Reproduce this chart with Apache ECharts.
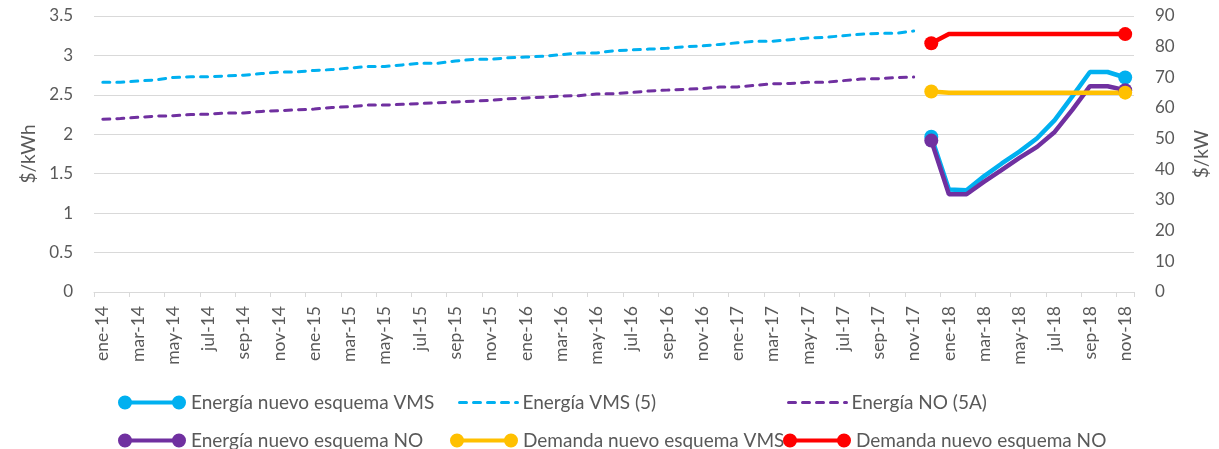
<!DOCTYPE html>
<html>
<head>
<meta charset="utf-8">
<script src="https://cdn.jsdelivr.net/npm/echarts@6/dist/echarts.min.js"></script>
<style>
html,body{margin:0;padding:0;background:#fff;}
#c{width:1219px;height:449px;}
</style>
</head>
<body>
<div id="c"></div>
<script>
// ---- Data ----
const monthNames = ['ene','feb','mar','abr','may','jun','jul','ago','sep','oct','nov','dic'];
const years = ['14','15','16','17','18'];
const categories = [];
years.forEach(y => monthNames.forEach(m => categories.push(m + '-' + y)));
categories.pop(); // ends at nov-18

// Energía VMS (5): ene-14 .. nov-17 ($/kWh)
const energiaVMS5 = [2.66,2.66,2.675,2.69,2.72,2.73,2.73,2.74,2.75,2.77,2.79,2.79,
  2.81,2.82,2.84,2.86,2.86,2.88,2.90,2.90,2.93,2.95,2.95,2.97,
  2.98,2.99,3.01,3.03,3.03,3.06,3.07,3.08,3.09,3.11,3.12,3.14,
  3.16,3.18,3.18,3.20,3.22,3.23,3.25,3.27,3.28,3.28,3.31];
// Energía NO (5A): ene-14 .. nov-17 ($/kWh)
const energiaNO5A = [2.19,2.20,2.215,2.23,2.235,2.25,2.255,2.27,2.27,2.29,2.30,2.31,
  2.32,2.34,2.35,2.37,2.37,2.38,2.39,2.40,2.41,2.42,2.43,2.45,
  2.46,2.47,2.485,2.49,2.51,2.515,2.53,2.55,2.56,2.57,2.58,2.60,
  2.60,2.62,2.64,2.645,2.66,2.66,2.68,2.70,2.705,2.72,2.725];
// New scheme: dic-17 .. nov-18
const energiaNuevoVMS = [1.97,1.30,1.29,1.47,1.63,1.78,1.95,2.18,2.48,2.79,2.79,2.72];
const energiaNuevoNO  = [1.92,1.24,1.24,1.40,1.55,1.70,1.84,2.03,2.31,2.61,2.61,2.56];
// Demand ($/kW, right axis)
const demandaNuevoVMS = [65.4,65.0,65.0,65.0,65.0,65.0,65.0,65.0,65.0,65.0,65.0,65.0];
const demandaNuevoNO  = [81.1,84.1,84.1,84.1,84.1,84.1,84.1,84.1,84.1,84.1,84.1,84.1];

const seriesNames = ['Energía nuevo esquema VMS','Energía VMS (5)','Energía NO (5A)',
  'Energía nuevo esquema NO','Demanda nuevo esquema VMS','Demanda nuevo esquema NO'];
const colors = ['#00B0F0','#00B0F0','#7030A0','#7030A0','#FFC000','#FF0000'];

// ---- Helpers ----
const N = categories.length;
function padEnd(arr){ const out = arr.slice(); while(out.length < N) out.push(null); return out; }
function padStart(arr){ const out = []; while(out.length + arr.length < N) out.push(null); return out.concat(arr); }
function endMarkers(arr){
  return arr.map((v,i) => (i===0 || i===arr.length-1) ? {value:v, symbol:'circle', symbolSize:14} : {value:v, symbol:'none'});
}

const FONT = 'Lato';
const TXT = '#595959';
const markerIcon = 'path://M0,7a7,7 0 1,0 14,0a7,7 0 1,0 -14,0z M7,5v4h54v-4z M54,7a7,7 0 1,0 14,0a7,7 0 1,0 -14,0z';

function solidSeries(name, color, data, yIdx){
  return {
    name, type:'line', yAxisIndex:yIdx, symbol:'circle', symbolSize:14, showAllSymbol:true,
    data: padStart(endMarkers(data)),
    lineStyle:{color, width:4.5}, itemStyle:{color},
    connectNulls:false, animation:false
  };
}
function dashedSeries(name, color, data){
  return {
    name, type:'line', yAxisIndex:0, symbol:'none',
    data: padEnd(data),
    lineStyle:{color, width:3, type:[7,7], cap:'round'}, itemStyle:{color},
    animation:false
  };
}

function legend(name, left, top, icon, w, dashed){
  const l = {
    data:[{name, icon}], left, top, itemWidth:w, itemHeight:14,
    textStyle:{color:TXT, fontSize:19, fontFamily:FONT}, selectedMode:false,
    lineStyle:{width:3}
  };
  if (dashed) l.itemStyle = {opacity:0, color:'rgba(0,0,0,0)', borderWidth:0};
  return l;
}

const chart = echarts.init(document.getElementById('c'), null, {renderer:'canvas'});
chart.setOption({
  animation:false,
  textStyle:{fontFamily:FONT},
  grid:{left:94, right:85, top:16, bottom:157, containLabel:false},
  legend:[
    legend(seriesNames[0], 113, 388, markerIcon, 68),
    legend(seriesNames[1], 453, 388, undefined, 58, true),
    legend(seriesNames[2], 782, 388, undefined, 58, true),
    legend(seriesNames[3], 113, 426, markerIcon, 68),
    legend(seriesNames[4], 445, 426, markerIcon, 68),
    legend(seriesNames[5], 778, 426, markerIcon, 68)
  ],
  xAxis:{
    type:'category', data:categories, boundaryGap:true,
    axisLine:{lineStyle:{color:'#d9d9d9', width:1}},
    axisTick:{show:true, interval:1, length:5, lineStyle:{color:'#d9d9d9'}},
    axisLabel:{interval:1, rotate:90, color:TXT, fontSize:17.5, fontFamily:FONT, margin:14}
  },
  yAxis:[
    {type:'value', min:0, max:3.5, interval:0.5, position:'left',
     name:'$/kWh', nameLocation:'middle', nameRotate:90, nameGap:56,
     nameTextStyle:{color:TXT, fontSize:19, fontFamily:FONT},
     axisLine:{show:false}, axisTick:{show:false},
     axisLabel:{color:TXT, fontSize:17, fontFamily:FONT, margin:21},
     splitLine:{lineStyle:{color:'#d9d9d9', width:1}}},
    {type:'value', min:0, max:90, interval:10, position:'right',
     name:'$/kW', nameLocation:'middle', nameRotate:90, nameGap:58,
     nameTextStyle:{color:TXT, fontSize:19, fontFamily:FONT},
     axisLine:{show:false}, axisTick:{show:false},
     axisLabel:{color:TXT, fontSize:17, fontFamily:FONT, margin:21},
     splitLine:{show:false}}
  ],
  series:[
    solidSeries(seriesNames[0], colors[0], energiaNuevoVMS, 0),
    dashedSeries(seriesNames[1], colors[1], energiaVMS5),
    dashedSeries(seriesNames[2], colors[2], energiaNO5A),
    solidSeries(seriesNames[3], colors[3], energiaNuevoNO, 0),
    solidSeries(seriesNames[4], colors[4], demandaNuevoVMS, 1),
    solidSeries(seriesNames[5], colors[5], demandaNuevoNO, 1)
  ]
});
</script>
</body>
</html>
